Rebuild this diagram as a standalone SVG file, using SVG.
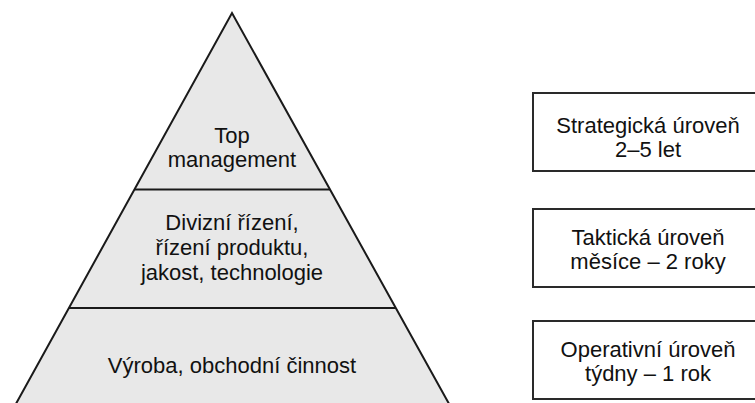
<svg xmlns="http://www.w3.org/2000/svg" width="755" height="403" viewBox="0 0 755 403">
  <style>
    .lbl { font-family: "Liberation Sans", Arial, sans-serif; font-size: 22px; fill: #111; text-anchor: middle; }
    .tier { fill: #e8e8e8; stroke: none; }
    .edge { fill: none; stroke: #1a1a1a; stroke-width: 2; stroke-linejoin: miter; }
    .divider { stroke: #1a1a1a; stroke-width: 2.2; }
    .box { fill: #ffffff; stroke: #2a2a2a; stroke-width: 2; }
  </style>
  <rect width="755" height="403" fill="#ffffff"/>

  <!-- Management pyramid -->
  <g id="pyramid">
    <polygon class="tier" points="232,13 458,420 7,420"/>
    <polyline class="edge" points="7,420 232,13 458,420"/>
  </g>

  <g id="tier-top">
    <text class="lbl" x="232" y="143">Top</text>
    <text class="lbl" x="232" y="167">management</text>
  </g>

  <g id="tier-middle">
    <line class="divider" x1="134.4" y1="189.5" x2="330.1" y2="189.5"/>
    <text class="lbl" x="232" y="230">Divizní řízení,</text>
    <text class="lbl" x="232" y="255">řízení produktu,</text>
    <text class="lbl" x="232" y="280">jakost, technologie</text>
  </g>

  <g id="tier-bottom">
    <line class="divider" x1="68.9" y1="308" x2="396" y2="308"/>
    <text class="lbl" x="232" y="373">Výroba, obchodní činnost</text>
  </g>

  <!-- Planning horizon boxes -->
  <g id="box-strategic">
    <rect class="box" x="533" y="93" width="240" height="78"/>
    <text class="lbl" x="648" y="133">Strategická úroveň</text>
    <text class="lbl" x="648" y="157">2–5 let</text>
  </g>

  <g id="box-tactical">
    <rect class="box" x="533" y="209" width="240" height="78"/>
    <text class="lbl" x="648" y="245">Taktická úroveň</text>
    <text class="lbl" x="648" y="269">měsíce – 2 roky</text>
  </g>

  <g id="box-operational">
    <rect class="box" x="533" y="321" width="240" height="78"/>
    <text class="lbl" x="648" y="357">Operativní úroveň</text>
    <text class="lbl" x="648" y="381">týdny – 1 rok</text>
  </g>

  <g id="connectors"></g>
</svg>
